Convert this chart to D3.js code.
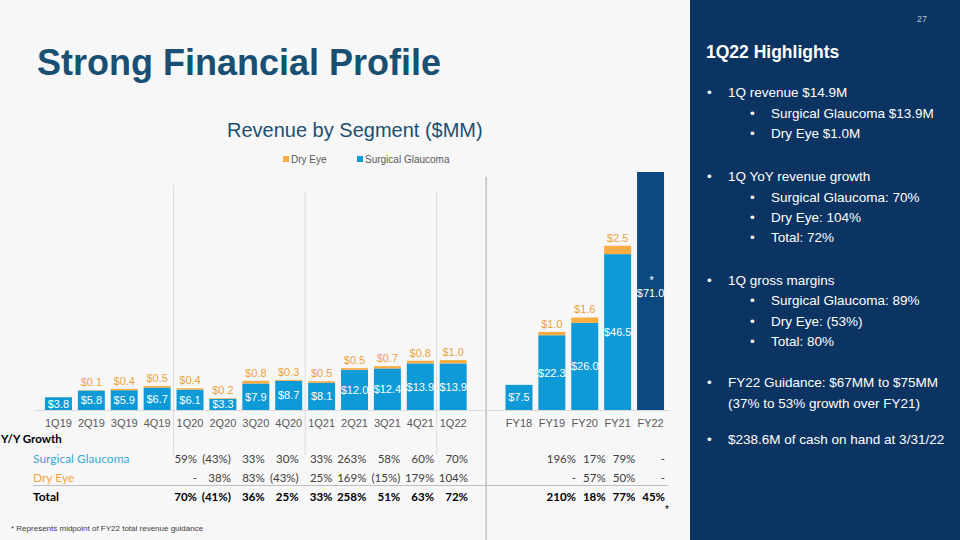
<!DOCTYPE html>
<html><head><meta charset="utf-8">
<script src="https://cdn.jsdelivr.net/npm/d3@7"></script>
<style>
html,body{margin:0;padding:0;background:#f7f7f7;}
svg{display:block;}
</style></head>
<body>
<svg id="c" width="960" height="540"></svg>
<script>
// ---- data ----
const categories = ["1Q19","2Q19","3Q19","4Q19","1Q20","2Q20","3Q20","4Q20","1Q21","2Q21","3Q21","4Q21","1Q22","","FY18","FY19","FY20","FY21","FY22"];
const surgicalGlaucoma = [3.8,5.8,5.9,6.7,6.1,3.3,7.9,8.7,8.1,12.0,12.4,13.9,13.9,null,7.5,22.3,26.0,46.5,null];
const dryEye = [null,0.1,0.4,0.5,0.4,0.2,0.8,0.3,0.5,0.5,0.7,0.8,1.0,null,null,1.0,1.6,2.5,null];
const guidance = [null,null,null,null,null,null,null,null,null,null,null,null,null,null,null,null,null,null,71.0];

const qGrowthCols = ["1Q20","2Q20","3Q20","4Q20","1Q21","2Q21","3Q21","4Q21","1Q22"];
const qGrowthSG = ["59%","(43%)","33%","30%","33%","263%","58%","60%","70%"];
const qGrowthDE = ["-","38%","83%","(43%)","25%","169%","(15%)","179%","104%"];
const qGrowthTotal = ["70%","(41%)","36%","25%","33%","258%","51%","63%","72%"];
const fyGrowthCols = ["FY19","FY20","FY21","FY22"];
const fyGrowthSG = ["196%","17%","79%","-"];
const fyGrowthDE = ["-","57%","50%","-"];
const fyGrowthTotal = ["210%","18%","77%","45%"];

const highlights = [
  {lvl:0, t:"1Q revenue $14.9M"},
  {lvl:1, t:"Surgical Glaucoma $13.9M"},
  {lvl:1, t:"Dry Eye $1.0M"},
  {lvl:0, t:"1Q YoY revenue growth"},
  {lvl:1, t:"Surgical Glaucoma: 70%"},
  {lvl:1, t:"Dry Eye: 104%"},
  {lvl:1, t:"Total: 72%"},
  {lvl:0, t:"1Q gross margins"},
  {lvl:1, t:"Surgical Glaucoma: 89%"},
  {lvl:1, t:"Dry Eye: (53%)"},
  {lvl:1, t:"Total: 80%"},
  {lvl:0, t:"FY22 Guidance: $67MM to $75MM"},
  {lvl:-1, t:"(37% to 53% growth over FY21)"},
  {lvl:0, t:"$238.6M of cash on hand at 3/31/22"}
];
const highlightY = [97,117.5,137.5,181,202,222,242,285,305,326,346,387,408,444];

// ---- styles ----
const C_SG = "#0e9ad7", C_DE = "#f9ad42", C_GUID = "#0b4a80", C_DE_TXT = "#eda23c";
const AR = "'Liberation Sans', Arial, sans-serif";
const CAL = "Lato, 'Open Sans', sans-serif";

const svg = d3.select("#c");
svg.append("rect").attr("width",960).attr("height",540).attr("fill","#f7f7f7");

// title
svg.append("text").attr("x",37).attr("y",75).attr("font-family",AR).attr("font-weight","bold")
  .attr("font-size",36).attr("fill","#184f72").text("Strong Financial Profile");
svg.append("text").attr("x",227).attr("y",137).attr("font-family",AR)
  .attr("font-size",20).attr("fill","#1c4f70").text("Revenue by Segment ($MM)");

// legend
const leg = [{n:"Dry Eye",c:C_DE,x:283},{n:"Surgical Glaucoma",c:C_SG,x:357}];
leg.forEach(l=>{
  svg.append("rect").attr("x",l.x).attr("y",156).attr("width",6).attr("height",6).attr("fill",l.c);
  svg.append("text").attr("x",l.x+8).attr("y",163).attr("font-family",AR).attr("font-size",10)
    .attr("fill","#595959").text(l.n);
});

// scales
const x = d3.scaleBand().domain(categories).range([42,667]).paddingInner(0.18).paddingOuter(0.09);
const y = d3.scaleLinear().domain([0,71]).range([410,172]);
const bw = x.bandwidth(), gap = x.step()-bw;

// separators
const seps = [
  {x:x("1Q20")-gap/2, y1:185, y2:455, c:"#dcdcdc"},
  {x:x("1Q21")-gap/2, y1:192, y2:455, c:"#dcdcdc"},
  {x:x("1Q22")-gap/2, y1:192, y2:455, c:"#dcdcdc"},
  {x:x("")+bw/2, y1:177, y2:540, c:"#a6a6a6"}
];
seps.forEach(s=>svg.append("line").attr("x1",s.x).attr("x2",s.x).attr("y1",s.y1).attr("y2",s.y2)
  .attr("stroke",s.c).attr("stroke-width",1));

// axis
const axis = d3.axisBottom(x).tickSize(0).tickPadding(9);
const ag = svg.append("g").attr("transform","translate(0,"+y(0)+")").call(axis);
ag.select(".domain").attr("stroke","#d9d9d9").attr("d","M35,0.5H670");
ag.selectAll("text").attr("font-family",AR).attr("font-size",11).attr("fill","#595959");

const rows = categories.map((c,i)=>({c, sg:surgicalGlaucoma[i], de:dryEye[i], g:guidance[i]}));

// bars
const bars = svg.append("g");
rows.filter(d=>d.sg!=null).forEach(d=>{
  bars.append("rect").attr("x",x(d.c)).attr("width",bw).attr("y",y(d.sg)).attr("height",y(0)-y(d.sg)).attr("fill",C_SG);
  if(d.de!=null){
    bars.append("rect").attr("x",x(d.c)).attr("width",bw).attr("y",y(d.sg+d.de)).attr("height",y(0)-y(d.de)).attr("fill",C_DE);
  }
});
rows.filter(d=>d.g!=null).forEach(d=>{
  bars.append("rect").attr("x",x(d.c)).attr("width",bw).attr("y",y(d.g)).attr("height",y(0)-y(d.g)).attr("fill",C_GUID);
});

// labels
const lab = svg.append("g").attr("font-family",AR).attr("font-size",11).attr("text-anchor","middle");
rows.filter(d=>d.sg!=null).forEach(d=>{
  lab.append("text").attr("x",x(d.c)+bw/2).attr("y",(y(d.sg)+y(0))/2+4).attr("fill","#ffffff")
    .text("$"+d.sg.toFixed(1));
  if(d.de!=null){
    lab.append("text").attr("x",x(d.c)+bw/2).attr("y",y(d.sg+d.de)-4).attr("fill",C_DE_TXT)
      .text("$"+d.de.toFixed(1));
  }
});
rows.filter(d=>d.g!=null).forEach(d=>{
  const cy=(y(d.g)+y(0))/2;
  lab.append("text").attr("x",x(d.c)+bw/2).attr("y",cy+6).attr("fill","#ffffff").text("$"+d.g.toFixed(1));
  lab.append("text").attr("x",x(d.c)+bw/2+1).attr("y",cy-7).attr("fill","#ffffff").attr("font-size",11).text("*");
});

// growth table
const tg = svg.append("g").attr("font-family",CAL).attr("font-size",11.5);
tg.append("text").attr("x",1).attr("y",443).attr("font-weight","bold").attr("fill","#000").text("Y/Y Growth");
tg.append("text").attr("x",33).attr("y",463).attr("fill","#3aa7da").attr("font-size",12).text("Surgical Glaucoma");
tg.append("text").attr("x",33).attr("y",482).attr("fill","#f2a53d").attr("font-size",12).text("Dry Eye");
tg.append("text").attr("x",33).attr("y",501).attr("fill","#000").attr("font-weight","bold").attr("font-size",12).text("Total");
svg.append("line").attr("x1",33).attr("x2",668).attr("y1",485.5).attr("y2",485.5).attr("stroke","#bfbfbf");

const qx = d3.scalePoint().domain(qGrowthCols).range([197,468]);
const fx = d3.scalePoint().domain(fyGrowthCols).range([576,665]);
function row(cols, vals, sc, yy, bold){
  cols.forEach((c,i)=>tg.append("text").attr("x",sc(c)).attr("y",yy).attr("text-anchor","end")
    .attr("fill",bold?"#000":"#404040").attr("font-weight",bold?"bold":"normal").text(vals[i]));
}
row(qGrowthCols,qGrowthSG,qx,463,false);
row(qGrowthCols,qGrowthDE,qx,482,false);
row(qGrowthCols,qGrowthTotal,qx,501,true);
row(fyGrowthCols,fyGrowthSG,fx,463,false);
row(fyGrowthCols,fyGrowthDE,fx,482,false);
row(fyGrowthCols,fyGrowthTotal,fx,501,true);
tg.append("text").attr("x",fx("FY22")+4).attr("y",513).attr("text-anchor","end").attr("font-family",AR).attr("font-size",10).attr("fill","#000").text("*");

svg.append("text").attr("x",11).attr("y",531).attr("font-family",AR).attr("font-size",8).attr("fill","#404040")
  .text("* Represents midpoint of FY22 total revenue guidance");

// right panel
svg.append("rect").attr("x",690).attr("y",0).attr("width",270).attr("height",540).attr("fill","#0b3462");
svg.append("text").attr("x",927).attr("y",22).attr("text-anchor","end").attr("font-family",AR).attr("font-size",9)
  .attr("fill","#b8c2d4").text("27");
svg.append("text").attr("x",706).attr("y",58).attr("font-family",AR).attr("font-weight","bold").attr("font-size",17.5)
  .attr("fill","#ffffff").text("1Q22 Highlights");
const hg = svg.append("g").attr("font-family",AR).attr("font-size",13.5).attr("fill","#ffffff");
highlights.forEach((h,i)=>{
  const yy = highlightY[i];
  if(h.lvl===0){
    hg.append("text").attr("x",707).attr("y",yy).text("•");
    hg.append("text").attr("x",728).attr("y",yy).text(h.t);
  } else if(h.lvl===1){
    hg.append("text").attr("x",750).attr("y",yy).text("•");
    hg.append("text").attr("x",771).attr("y",yy).text(h.t);
  } else {
    hg.append("text").attr("x",728).attr("y",yy).text(h.t);
  }
});
</script>
</body></html>
